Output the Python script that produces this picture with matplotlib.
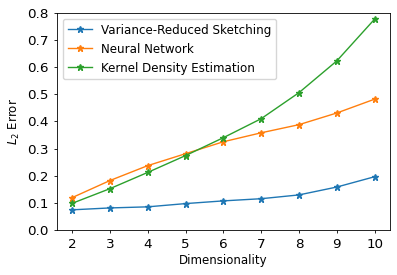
import matplotlib
matplotlib.use("Agg")
import matplotlib.pyplot as plt

dims = [2, 3, 4, 5, 6, 7, 8, 9, 10]
vrs = [0.074, 0.081, 0.085, 0.097, 0.107, 0.115, 0.129, 0.158, 0.196]
nn = [0.119, 0.182, 0.237, 0.281, 0.325, 0.358, 0.388, 0.431, 0.482]
kde = [0.098, 0.152, 0.212, 0.274, 0.340, 0.410, 0.506, 0.623, 0.777]

fig = plt.figure(figsize=(3.97, 2.75), dpi=100)
ax = fig.add_axes([0.1436, 0.164, 0.838, 0.789])

ax.plot(dims, vrs, marker='*', lw=1.0, ms=5, label='Variance-Reduced Sketching')
ax.plot(dims, nn, marker='*', lw=1.0, ms=5, label='Neural Network')
ax.plot(dims, kde, marker='*', lw=1.0, ms=5, label='Kernel Density Estimation')

ax.set_ylim(0, 0.8)
ax.set_xticks(dims)
ax.tick_params(labelsize=9.7, width=0.6, length=2.5)
for s in ax.spines.values():
    s.set_linewidth(0.6)
ax.set_xlabel('Dimensionality', fontsize=8.5, labelpad=2)
ax.set_ylabel('$L_2$ Error', fontsize=8.5, labelpad=4)
ax.legend(fontsize=8.6, loc='upper left', handlelength=2)

fig.savefig('out.png', dpi=100)
